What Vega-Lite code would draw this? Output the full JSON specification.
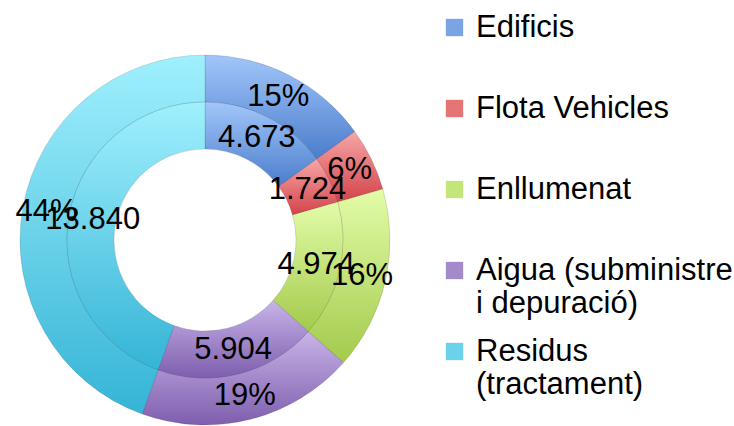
{
  "$schema": "https://vega.github.io/schema/vega-lite/v6.json",
  "width": 410,
  "height": 480,
  "padding": 0,
  "autosize": {"type": "pad"},
  "background": "white",
  "config": {
    "view": {"stroke": null},
    "locale": {"number": {"decimal": ",", "thousands": ".", "grouping": [3], "currency": ["", " €"]}},
    "font": "Liberation Sans"
  },
  "data": {
    "values": [
      {"k": 1, "cat": "Edificis", "value": 4673, "pct": "15%"},
      {"k": 2, "cat": "Flota Vehicles", "value": 1724, "pct": "6%"},
      {"k": 3, "cat": "Enllumenat", "value": 4974, "pct": "16%"},
      {"k": 4, "cat": "Aigua (subministre i depuració)", "value": 5904, "pct": "19%"},
      {"k": 5, "cat": "Residus (tractament)", "value": 13840, "pct": "44%"}
    ]
  },
  "encoding": {
    "theta": {"field": "value", "type": "quantitative", "stack": true},
    "order": {"field": "k", "type": "quantitative"}
  },
  "layer": [
    {
      "mark": {"type": "arc", "radius": 184, "radius2": 92, "strokeWidth": 0},
      "encoding": {
        "fill": {
          "field": "cat",
          "type": "nominal",
          "sort": {"field": "k"},
          "scale": {
            "domain": ["Edificis", "Flota Vehicles", "Enllumenat", "Aigua (subministre i depuració)", "Residus (tractament)"],
            "range": ["#7aa4e4", "#e57575", "#c4e57a", "#a38acb", "#6ad2ea"]
          },
          "legend": {
            "title": null,
            "orient": "right",
            "offset": 17,
            "padding": 12,
            "symbolType": "square",
            "symbolSize": 300,
            "symbolStrokeWidth": 0,
            "symbolOpacity": 1,
            "labelFontSize": 31,
            "labelFont": "Liberation Sans",
            "labelColor": "black",
            "labelLimit": 400,
            "labelOffset": 6,
            "labelLineHeight": 37,
            "rowPadding": 16,
            "labelExpr": "datum.label == 'Aigua (subministre i depuració)' ? ['Aigua (subministre', 'i depuració)'] : datum.label == 'Residus (tractament)' ? ['Residus', '(tractament)'] : [datum.label, '']",
            "encode": {
              "symbols": {
                "update": {
                  "strokeWidth": {"value": 0},
                  "fill": [
                    {"test": "datum.value == 'Edificis'", "value": {"gradient": "linear", "x1": 0, "y1": 0, "x2": 0, "y2": 1, "stops": [{"offset": 0, "color": "#92b9f4"}, {"offset": 1, "color": "#4a7cc9"}]}},
                    {"test": "datum.value == 'Flota Vehicles'", "value": {"gradient": "linear", "x1": 0, "y1": 0, "x2": 0, "y2": 1, "stops": [{"offset": 0, "color": "#f3a0a0"}, {"offset": 1, "color": "#d3444a"}]}},
                    {"test": "datum.value == 'Enllumenat'", "value": {"gradient": "linear", "x1": 0, "y1": 0, "x2": 0, "y2": 1, "stops": [{"offset": 0, "color": "#dcf99c"}, {"offset": 1, "color": "#a3ca4c"}]}},
                    {"test": "datum.value == 'Aigua (subministre i depuració)'", "value": {"gradient": "linear", "x1": 0, "y1": 0, "x2": 0, "y2": 1, "stops": [{"offset": 0, "color": "#c2ade6"}, {"offset": 1, "color": "#7e5eae"}]}},
                    {"value": {"gradient": "linear", "x1": 0, "y1": 0, "x2": 0, "y2": 1, "stops": [{"offset": 0, "color": "#98ebfb"}, {"offset": 1, "color": "#35b4d6"}]}}
                  ]
                }
              }
            }
          }
        }
      }
    },
    {
      "mark": {"type": "arc", "radius": 185, "radius2": 138, "stroke": "rgba(40,40,60,0.18)", "strokeWidth": 0.8},
      "encoding": {
        "fill": {
          "condition": [
            {"test": "datum.cat == 'Edificis'", "value": {"gradient": "linear", "x1": 0, "y1": 0, "x2": 0, "y2": 1, "stops": [{"offset": 0, "color": "#a2c6fa"}, {"offset": 1, "color": "#4a7dcc"}]}},
            {"test": "datum.cat == 'Flota Vehicles'", "value": {"gradient": "linear", "x1": 0, "y1": 0, "x2": 0, "y2": 1, "stops": [{"offset": 0, "color": "#f6a6a6"}, {"offset": 1, "color": "#d3444a"}]}},
            {"test": "datum.cat == 'Enllumenat'", "value": {"gradient": "linear", "x1": 0, "y1": 0, "x2": 0, "y2": 1, "stops": [{"offset": 0, "color": "#e3fca8"}, {"offset": 1, "color": "#a3ca4c"}]}},
            {"test": "datum.cat == 'Aigua (subministre i depuració)'", "value": {"gradient": "linear", "x1": 0, "y1": 0, "x2": 0, "y2": 1, "stops": [{"offset": 0, "color": "#c8b4e8"}, {"offset": 1, "color": "#7e5eae"}]}}
          ],
          "value": {"gradient": "linear", "x1": 0, "y1": 0, "x2": 0, "y2": 1, "stops": [{"offset": 0, "color": "#a0f0fd"}, {"offset": 1, "color": "#35b4d6"}]}
        }
      }
    },
    {
      "mark": {"type": "arc", "radius": 138, "radius2": 91, "stroke": "rgba(40,40,60,0.18)", "strokeWidth": 0.8},
      "encoding": {
        "fill": {
          "condition": [
            {"test": "datum.cat == 'Edificis'", "value": {"gradient": "linear", "x1": 0, "y1": 0, "x2": 0, "y2": 1, "stops": [{"offset": 0, "color": "#a2c6fa"}, {"offset": 1, "color": "#4a7dcc"}]}},
            {"test": "datum.cat == 'Flota Vehicles'", "value": {"gradient": "linear", "x1": 0, "y1": 0, "x2": 0, "y2": 1, "stops": [{"offset": 0, "color": "#f6a6a6"}, {"offset": 1, "color": "#d3444a"}]}},
            {"test": "datum.cat == 'Enllumenat'", "value": {"gradient": "linear", "x1": 0, "y1": 0, "x2": 0, "y2": 1, "stops": [{"offset": 0, "color": "#e3fca8"}, {"offset": 1, "color": "#a3ca4c"}]}},
            {"test": "datum.cat == 'Aigua (subministre i depuració)'", "value": {"gradient": "linear", "x1": 0, "y1": 0, "x2": 0, "y2": 1, "stops": [{"offset": 0, "color": "#c8b4e8"}, {"offset": 1, "color": "#7e5eae"}]}}
          ],
          "value": {"gradient": "linear", "x1": 0, "y1": 0, "x2": 0, "y2": 1, "stops": [{"offset": 0, "color": "#a0f0fd"}, {"offset": 1, "color": "#35b4d6"}]}
        }
      }
    },
    {
      "mark": {"type": "text", "radius": 161, "fontSize": 31, "color": "black", "font": "Liberation Sans"},
      "encoding": {"text": {"field": "pct", "type": "nominal"}}
    },
    {
      "mark": {"type": "text", "radius": 114, "fontSize": 31, "color": "black", "font": "Liberation Sans"},
      "encoding": {"text": {"field": "value", "type": "quantitative", "format": ",d"}}
    }
  ]
}
